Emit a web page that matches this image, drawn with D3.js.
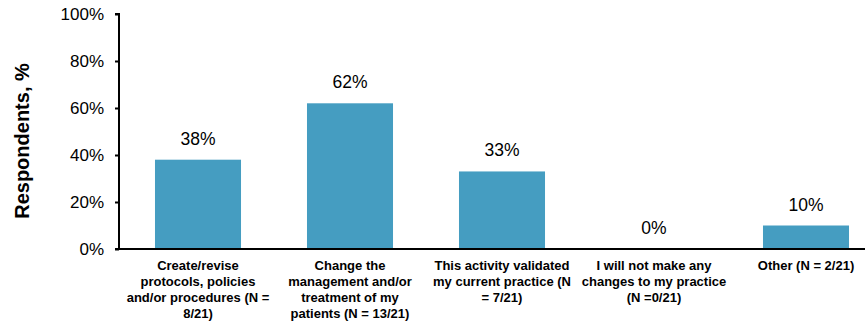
<!DOCTYPE html>
<html>
<head>
<meta charset="utf-8">
<script src="https://cdn.jsdelivr.net/npm/d3@7"></script>
<style>
  html, body { margin: 0; padding: 0; background: #fff; }
  svg { display: block; font-family: "Liberation Sans", Arial, sans-serif; }
</style>
</head>
<body>
<svg id="chart" width="865" height="321"></svg>
<script>
// Survey responses: planned changes in practice
const categories = [
  ["Create/revise", "protocols, policies", "and/or procedures (N =", "8/21)"],
  ["Change the", "management and/or", "treatment of my", "patients (N = 13/21)"],
  ["This activity validated", "my current practice (N", "= 7/21)"],
  ["I will not make any", "changes to my practice", "(N =0/21)"],
  ["Other (N = 2/21)"]
];
const values = [38, 62, 33, 0, 10];
const yTicks = [0, 20, 40, 60, 80, 100];

const svg = d3.select("#chart");
const x0 = 119, yTop = 14, yBase = 249;

const x = d3.scaleBand()
  .domain(d3.range(values.length))
  .range([122, 882])
  .paddingInner(0.434)
  .paddingOuter(0.217);

const y = d3.scaleLinear().domain([0, 100]).range([yBase, yTop]);

// bars
svg.append("g").selectAll("rect")
  .data(values)
  .join("rect")
  .attr("x", (d, i) => x(i))
  .attr("y", d => y(d))
  .attr("width", x.bandwidth())
  .attr("height", d => yBase - y(d))
  .attr("fill", "#459dc1");

// value labels
svg.append("g").selectAll("text")
  .data(values)
  .join("text")
  .attr("x", (d, i) => x(i) + x.bandwidth() / 2)
  .attr("y", d => y(d) - 15)
  .attr("text-anchor", "middle")
  .attr("font-size", 17.5)
  .attr("fill", "#000")
  .text(d => d + "%");

// y axis
const yAxis = svg.append("g")
  .attr("transform", `translate(${x0},0)`)
  .call(d3.axisLeft(y).tickValues(yTicks).tickSize(4).tickPadding(11).tickFormat(d => d + "%"));
yAxis.select(".domain").attr("stroke", "#000").attr("stroke-width", 2)
  .attr("d", `M-4,${yTop}H0V${yBase}`);
yAxis.selectAll(".tick line").attr("stroke", "#000").attr("stroke-width", 2);
yAxis.selectAll(".tick text")
  .attr("font-size", 17)
  .attr("font-family", "Liberation Sans, Arial, sans-serif")
  .attr("fill", "#000");

// x axis baseline
svg.append("line")
  .attr("x1", x0 - 4).attr("x2", 865)
  .attr("y1", yBase).attr("y2", yBase)
  .attr("stroke", "#000").attr("stroke-width", 2);

// category labels
const cat = svg.append("g").selectAll("text")
  .data(categories)
  .join("text")
  .attr("text-anchor", "middle")
  .attr("font-size", 13)
  .attr("font-weight", "bold")
  .attr("fill", "#000");
cat.selectAll("tspan")
  .data((d, i) => d.map(line => ({ line, i })))
  .join("tspan")
  .attr("x", d => x(d.i) + x.bandwidth() / 2)
  .attr("y", (d, j) => 270 + j * 16)
  .text(d => d.line);

// y axis title
svg.append("text")
  .attr("transform", "translate(29,141) rotate(-90)")
  .attr("text-anchor", "middle")
  .attr("font-size", 20)
  .attr("font-weight", "bold")
  .attr("fill", "#000")
  .text("Respondents, %");
</script>
</body>
</html>
